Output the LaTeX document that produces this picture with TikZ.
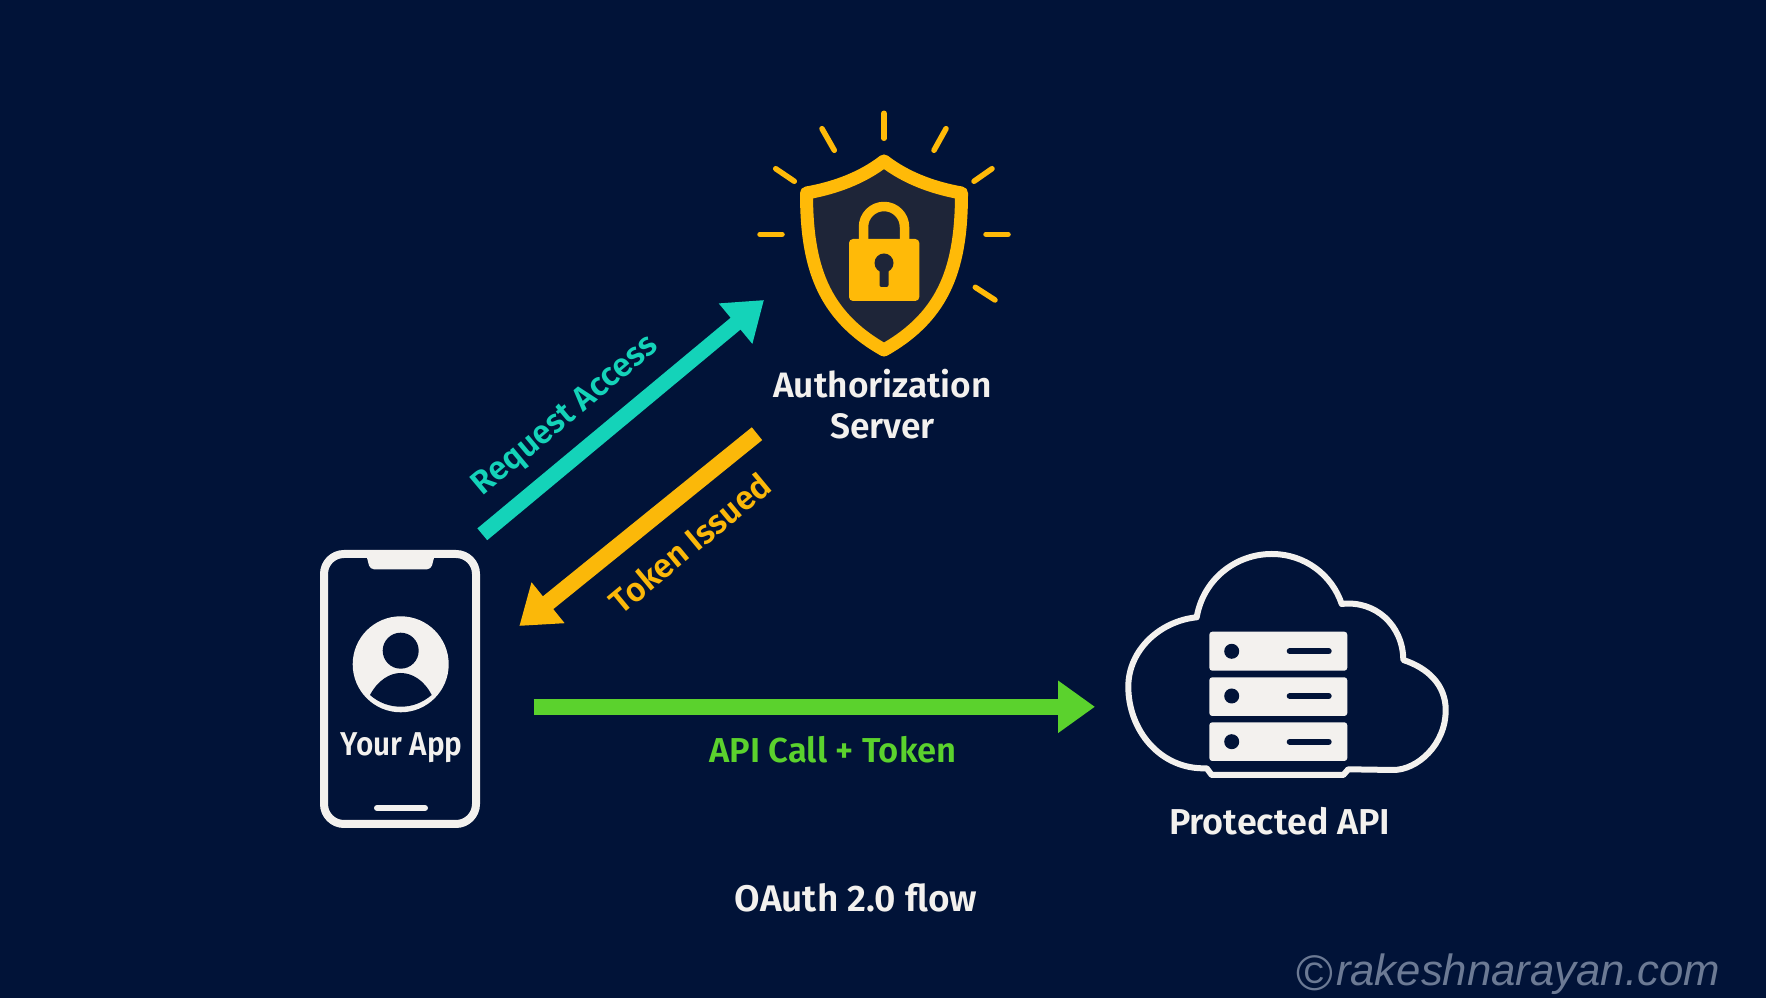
\documentclass[tikz,border=0pt]{standalone}
\usepackage{fontspec}
\setmainfont{Fira Sans}[BoldFont={Fira Sans SemiBold}]
\setsansfont{Liberation Sans}
\usetikzlibrary{arrows.meta}
\definecolor{bgnavy}{HTML}{011338}
\definecolor{iconwhite}{HTML}{F3F1EE}
\definecolor{shieldgold}{HTML}{FFBA08}
\definecolor{shielddark}{HTML}{1E2538}
\definecolor{flowteal}{HTML}{14D3B9}
\definecolor{flowgold}{HTML}{FBB809}
\definecolor{flowgreen}{HTML}{5BD22D}
\definecolor{markgrey}{HTML}{6C7A94}
\tikzset{
  iconline/.style={draw=iconwhite,line width=6bp,line join=round},
  rackbox/.style={fill=iconwhite,rounded corners=3bp},
  rackdot/.style={fill=bgnavy},
  rackbar/.style={draw=bgnavy,line width=6bp,line cap=round},
  sunray/.style={draw=shieldgold,line width=5.5bp,line cap=round},
  flowarrow/.style={line width=#1,-{Triangle[length=37bp,width=50bp]}},
  whitelabel/.style={text=iconwhite,font=\bfseries\fontsize{#1}{41bp}\selectfont,inner sep=0pt},
  flowlabel/.style={font=\bfseries\fontsize{#1}{38bp}\selectfont,inner sep=0pt},
  iconbox/.style={inner sep=0pt,outer sep=0pt}
}
\begin{document}
\begin{tikzpicture}[>=latex,line join=bevel,]
  \fill [bgnavy] (0bp,0bp) rectangle (1766bp,998bp);
  % Node: server
  \node [iconbox,minimum width=168bp,minimum height=205bp] (server) at (884bp,742.5bp) {};
  \draw [draw=shieldgold,fill=shielddark,line width=13bp,line join=round] (884bp,837bp) .. controls (862bp,820bp) and (835bp,810bp) .. (806.5bp,805bp) .. controls (806.5bp,733bp) and (822bp,683bp) .. (884bp,648bp) .. controls (946bp,683bp) and (961.5bp,733bp) .. (961.5bp,805bp) .. controls (933bp,810bp) and (906bp,820bp) .. cycle;
  \draw [shieldgold,line width=9.5bp] (863.5bp,759bp) -- (863.5bp,771bp) arc (180:0:20.5bp) -- (904.5bp,759bp);
  \fill [shieldgold,rounded corners=4bp] (849bp,697bp) rectangle (919.3bp,759bp);
  \fill [shielddark] (884bp,735bp) circle (9.5bp);
  \fill [shielddark,rounded corners=2bp] (879.5bp,711bp) rectangle (888.5bp,735bp);
  \draw [sunray] (884bp,884.7bp) -- (884bp,859.7bp);
  \draw [sunray] (822bp,869.3bp) -- (834.3bp,847.7bp);
  \draw [sunray] (946bp,869.3bp) -- (934bp,847.7bp);
  \draw [sunray] (775.7bp,829.3bp) -- (794.3bp,816.7bp);
  \draw [sunray] (992bp,829.3bp) -- (974bp,816.7bp);
  \draw [sunray] (760bp,763.7bp) -- (782bp,763.7bp);
  \draw [sunray] (986bp,763.7bp) -- (1008bp,763.7bp);
  \draw [sunray] (975.3bp,710.7bp) -- (995bp,698bp);
  \node [whitelabel=35.3bp,align=center] (serverlabel) at (882.5bp,593.5bp) {Authorization\\Server};
  % Node: app
  \node [iconbox,draw=iconwhite,line width=8bp,rounded corners=20bp,minimum width=152bp,minimum height=270bp] (app) at (400bp,309bp) {};
  \fill [iconwhite,rounded corners=4bp] (366bp,444bp) -- (370bp,428.7bp) -- (431bp,428.7bp) -- (435bp,444bp) -- cycle;
  \draw [iconwhite,line width=6bp,line cap=round] (377bp,190bp) -- (425bp,190bp);
  \fill [iconwhite] (400.7bp,333.7bp) circle (48bp);
  \fill [bgnavy] (400.7bp,347.3bp) circle (18bp);
  \fill [bgnavy] (370bp,303bp) .. controls (378bp,318bp) and (390bp,325bp) .. (400.7bp,325bp) .. controls (412bp,325bp) and (424bp,318bp) .. (431.7bp,303bp) .. controls (422bp,295bp) and (412bp,291.3bp) .. (400.7bp,291.3bp) .. controls (390bp,291.3bp) and (379bp,295bp) .. cycle;
  \node [whitelabel=33bp,anchor=base] (applabel) at (401.7bp,242bp) {\addfontfeature{FakeStretch=0.9}Your App};
  % Node: api
  \node [iconbox,minimum width=324bp,minimum height=227bp] (api) at (1287bp,333.5bp) {};
  \draw [iconline] (1206.7bp,229.7bp) .. controls (1160bp,228bp) and (1128.3bp,268bp) .. (1128.3bp,311.3bp) .. controls (1128.3bp,348bp) and (1160bp,377bp) .. (1196.7bp,380.7bp) .. controls (1203bp,418bp) and (1235bp,444bp) .. (1271.7bp,444bp) .. controls (1305bp,444bp) and (1332bp,423bp) .. (1341.7bp,394bp) .. controls (1375bp,398bp) and (1403bp,373bp) .. (1403.3bp,338bp) .. controls (1428bp,330bp) and (1445.7bp,313bp) .. (1445.7bp,288bp) .. controls (1445.7bp,253bp) and (1417bp,228bp) .. (1393.3bp,228bp) -- (1348.3bp,228.7bp) -- (1343.3bp,223bp) -- (1211.7bp,223bp) -- cycle;
  \fill [rackbox] (1209.3bp,327.3bp) rectangle (1347.3bp,366.3bp);
  \fill [rackbox] (1209.3bp,282bp) rectangle (1347.3bp,320.7bp);
  \fill [rackbox] (1209.3bp,237bp) rectangle (1347.3bp,275.7bp);
  \fill [rackdot] (1231.7bp,346.7bp) circle (7.5bp);
  \fill [rackdot] (1231.7bp,302bp) circle (7.5bp);
  \fill [rackdot] (1231.7bp,256.3bp) circle (7.5bp);
  \draw [rackbar] (1289.7bp,346.7bp) -- (1328.7bp,346.7bp);
  \draw [rackbar] (1289.7bp,302bp) -- (1328.7bp,302bp);
  \draw [rackbar] (1289.7bp,256.3bp) -- (1328.7bp,256.3bp);
  \node [whitelabel=36bp,anchor=base] (apilabel) at (1279.7bp,163.5bp) {Protected API};
  % Edge: app -> server
  \draw [flowarrow=15.4bp,flowteal] ([shift={(6.3bp,19.7bp)}]app.north east) -- ([shift={(-36bp,-44.5bp)}]server.west);
  \node [flowlabel=33bp,text=flowteal,rotate=40] (requestlabel) at (566bp,581.5bp) {Request Access};
  % Edge: server -> app
  \draw [flowarrow=16.5bp,flowgold] ([shift={(-43bp,-75.7bp)}]server.south west) -- ([shift={(43.3bp,-72bp)}]app.north east);
  \node [flowlabel=33.3bp,text=flowgold,rotate=39.7] (tokenlabel) at (690bp,455bp) {Token Issued};
  % Edge: app -> api
  \draw [flowarrow=16bp,flowgreen] ([shift={(57.5bp,-17.8bp)}]app.east) -- ([shift={(-30bp,-42.3bp)}]api.west);
  \node [flowlabel=34.6bp,text=flowgreen,anchor=base] (calllabel) at (833bp,235.5bp) {API Call + Token};
  % Node: caption
  \node [whitelabel=37bp,anchor=base] (caption) at (856bp,86bp) {OAuth 2.0 flow};
  % Node: watermark
  \node [text=markgrey,anchor=base east,inner sep=0pt,font=\sffamily\fontsize{43.7bp}{48bp}\selectfont] (watermark) at (1720bp,13bp) {\raisebox{-5bp}{\fontsize{50bp}{50bp}\selectfont ©}\hspace{3bp}\itshape rakeshnarayan.com};
\end{tikzpicture}
\end{document}
